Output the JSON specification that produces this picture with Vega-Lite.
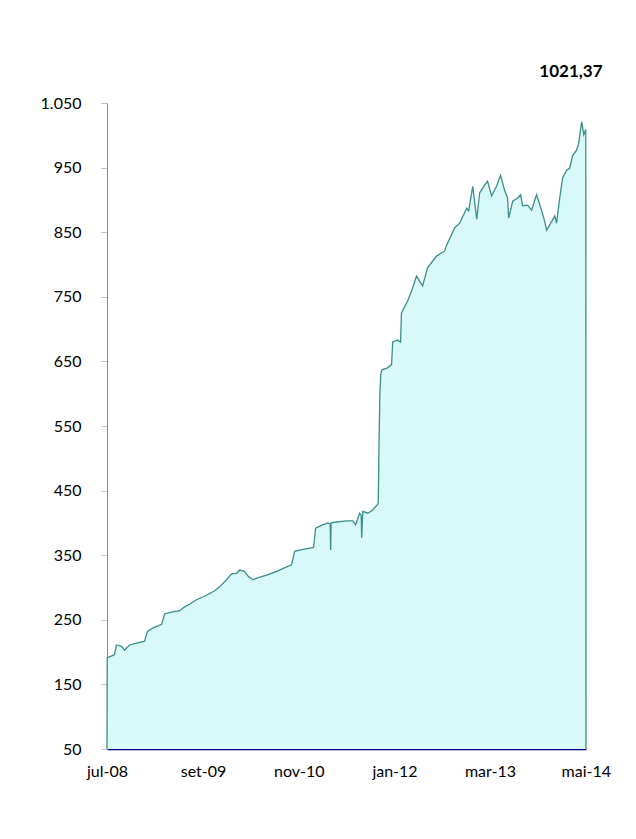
{
  "$schema": "https://vega.github.io/schema/vega-lite/v6.json",
  "width": 479,
  "height": 646,
  "autosize": {"type": "none"},
  "padding": {"left": 107, "top": 103, "right": 50, "bottom": 90},
  "background": "white",
  "title": {
    "text": "1021,37",
    "anchor": "end",
    "dx": -8,
    "offset": 14,
    "font": "Lato",
    "fontSize": 17,
    "fontWeight": "bold",
    "color": "#000000"
  },
  "config": {
    "view": {"stroke": null},
    "font": "Lato"
  },
  "data": {
    "values": [
      {"date": "2008-07-01", "value": 50},
      {"date": "2008-07-02", "value": 191},
      {"date": "2008-08-03", "value": 196},
      {"date": "2008-08-12", "value": 211},
      {"date": "2008-09-04", "value": 209},
      {"date": "2008-09-17", "value": 203},
      {"date": "2008-10-09", "value": 211},
      {"date": "2008-11-09", "value": 214},
      {"date": "2008-12-15", "value": 217},
      {"date": "2008-12-28", "value": 232},
      {"date": "2009-01-20", "value": 237},
      {"date": "2009-03-01", "value": 243},
      {"date": "2009-03-14", "value": 259},
      {"date": "2009-04-14", "value": 262},
      {"date": "2009-05-20", "value": 264},
      {"date": "2009-06-11", "value": 270},
      {"date": "2009-07-03", "value": 274},
      {"date": "2009-08-03", "value": 281},
      {"date": "2009-09-17", "value": 288},
      {"date": "2009-10-23", "value": 295},
      {"date": "2009-11-14", "value": 301},
      {"date": "2009-12-15", "value": 312},
      {"date": "2010-01-06", "value": 321},
      {"date": "2010-01-29", "value": 322},
      {"date": "2010-02-11", "value": 327},
      {"date": "2010-03-05", "value": 325},
      {"date": "2010-03-19", "value": 318},
      {"date": "2010-04-10", "value": 312},
      {"date": "2010-05-02", "value": 315},
      {"date": "2010-06-11", "value": 319},
      {"date": "2010-07-26", "value": 325},
      {"date": "2010-09-08", "value": 332},
      {"date": "2010-09-30", "value": 335},
      {"date": "2010-10-14", "value": 356},
      {"date": "2010-11-05", "value": 358},
      {"date": "2010-12-20", "value": 361},
      {"date": "2011-01-06", "value": 362},
      {"date": "2011-01-15", "value": 392},
      {"date": "2011-02-15", "value": 397},
      {"date": "2011-03-10", "value": 400},
      {"date": "2011-03-21", "value": 398},
      {"date": "2011-03-23", "value": 358},
      {"date": "2011-03-25", "value": 400},
      {"date": "2011-04-10", "value": 401},
      {"date": "2011-06-02", "value": 403},
      {"date": "2011-06-29", "value": 403},
      {"date": "2011-07-12", "value": 397},
      {"date": "2011-07-30", "value": 415},
      {"date": "2011-08-06", "value": 412},
      {"date": "2011-08-08", "value": 377},
      {"date": "2011-08-13", "value": 418},
      {"date": "2011-09-04", "value": 415},
      {"date": "2011-09-26", "value": 420},
      {"date": "2011-10-19", "value": 429},
      {"date": "2011-10-21", "value": 432},
      {"date": "2011-10-24", "value": 520},
      {"date": "2011-10-28", "value": 600},
      {"date": "2011-11-01", "value": 630},
      {"date": "2011-11-06", "value": 637},
      {"date": "2011-12-01", "value": 640},
      {"date": "2011-12-19", "value": 645},
      {"date": "2011-12-24", "value": 680},
      {"date": "2012-01-14", "value": 683},
      {"date": "2012-01-28", "value": 680},
      {"date": "2012-02-01", "value": 725},
      {"date": "2012-02-28", "value": 743},
      {"date": "2012-03-18", "value": 760},
      {"date": "2012-04-08", "value": 782},
      {"date": "2012-05-05", "value": 767},
      {"date": "2012-05-27", "value": 795},
      {"date": "2012-07-06", "value": 813},
      {"date": "2012-08-11", "value": 821},
      {"date": "2012-08-20", "value": 830},
      {"date": "2012-09-25", "value": 857},
      {"date": "2012-10-17", "value": 864},
      {"date": "2012-11-17", "value": 887},
      {"date": "2012-11-26", "value": 883},
      {"date": "2012-12-14", "value": 921},
      {"date": "2013-01-01", "value": 870},
      {"date": "2013-01-14", "value": 911},
      {"date": "2013-02-05", "value": 923},
      {"date": "2013-02-18", "value": 929},
      {"date": "2013-03-08", "value": 906},
      {"date": "2013-03-30", "value": 921},
      {"date": "2013-04-17", "value": 938},
      {"date": "2013-05-05", "value": 915},
      {"date": "2013-05-18", "value": 903},
      {"date": "2013-05-23", "value": 872},
      {"date": "2013-06-10", "value": 898},
      {"date": "2013-07-02", "value": 903},
      {"date": "2013-07-15", "value": 908},
      {"date": "2013-07-24", "value": 891},
      {"date": "2013-08-15", "value": 892},
      {"date": "2013-09-02", "value": 884},
      {"date": "2013-09-24", "value": 908},
      {"date": "2013-10-17", "value": 883},
      {"date": "2013-10-30", "value": 867},
      {"date": "2013-11-08", "value": 853},
      {"date": "2013-11-21", "value": 861},
      {"date": "2013-12-14", "value": 875},
      {"date": "2013-12-22", "value": 864},
      {"date": "2014-01-05", "value": 903},
      {"date": "2014-01-18", "value": 934},
      {"date": "2014-02-05", "value": 946},
      {"date": "2014-02-18", "value": 949},
      {"date": "2014-03-04", "value": 969},
      {"date": "2014-03-21", "value": 977},
      {"date": "2014-03-30", "value": 987},
      {"date": "2014-04-13", "value": 1021.37},
      {"date": "2014-04-22", "value": 1001},
      {"date": "2014-05-01", "value": 1009},
      {"date": "2014-05-02", "value": 50}
    ]
  },
  "encoding": {
    "x": {
      "field": "date",
      "type": "temporal",
      "scale": {"type": "utc", "domain": ["2008-07-01", "2014-05-02"]},
      "axis": {
        "title": null,
        "values": ["2008-07-01", "2009-09-01", "2010-11-01", "2012-01-01", "2013-03-01", "2014-05-01"],
        "labelExpr": "['jan','fev','mar','abr','mai','jun','jul','ago','set','out','nov','dez'][utcmonth(datum.value)] + '-' + utcFormat(datum.value, '%y')",
        "ticks": false,
        "grid": false,
        "domainColor": "#00008B",
        "domainWidth": 1.5,
        "labelFont": "Lato",
        "labelFontSize": 16,
        "labelColor": "#000000",
        "labelPadding": 14,
        "labelFlush": false
      }
    },
    "y": {
      "field": "value",
      "type": "quantitative",
      "scale": {"domain": [50, 1050], "zero": false, "nice": false},
      "axis": {
        "title": null,
        "values": [50, 150, 250, 350, 450, 550, 650, 750, 850, 950, 1050],
        "labelExpr": "replace(format(datum.value, ','), ',', '.')",
        "grid": false,
        "tickColor": "#BFBFBF",
        "tickSize": 6,
        "domainColor": "#8C8C8C",
        "labelFont": "Lato",
        "labelFontSize": 16,
        "labelColor": "#000000",
        "labelPadding": 20
      }
    }
  },
  "layer": [
    {
      "mark": {"type": "area", "color": "#D9F8F8", "opacity": 1},
      "encoding": {"y2": {"datum": 50}}
    },
    {
      "mark": {"type": "line", "color": "#3A8F8B", "strokeWidth": 1.3}
    }
  ]
}
